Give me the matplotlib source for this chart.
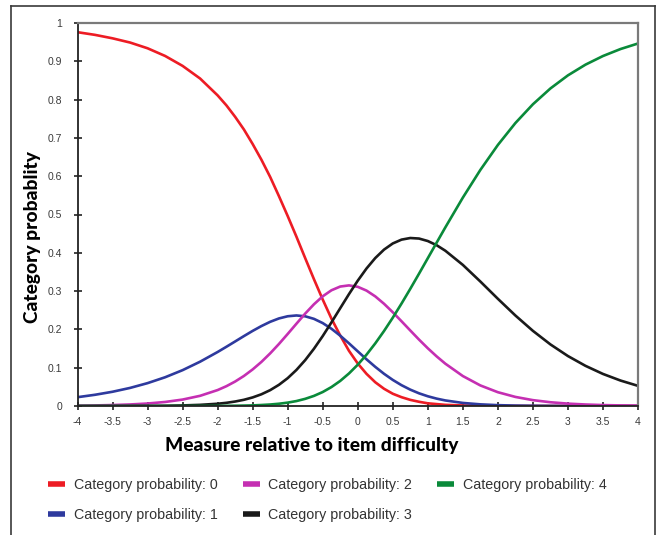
import matplotlib
matplotlib.use("Agg")
import matplotlib.pyplot as plt
from matplotlib.lines import Line2D

# Measure relative to item difficulty (logits)
measure = [-4.0, -3.75, -3.5, -3.25, -3.0, -2.75, -2.5, -2.25, -2.0, -1.875, -1.75, -1.625,
           -1.5, -1.375, -1.25, -1.125, -1.0, -0.875, -0.75, -0.625, -0.5, -0.375, -0.25,
           -0.125, 0.0, 0.125, 0.25, 0.375, 0.5, 0.625, 0.75, 0.875, 1.0, 1.125, 1.25,
           1.5, 1.75, 2.0, 2.25, 2.5, 2.75, 3.0, 3.25, 3.5, 3.75, 4.0]

cat0 = [0.976, 0.969, 0.960, 0.949, 0.934, 0.914, 0.888, 0.855, 0.811, 0.785, 0.755, 0.722,
        0.684, 0.643, 0.598, 0.548, 0.496, 0.442, 0.386, 0.331, 0.278, 0.228, 0.184,
        0.144, 0.111, 0.084, 0.062, 0.045, 0.032, 0.023, 0.016, 0.011, 0.007, 0.005, 0.003,
        0.0014, 0.0006, 0.0002, 0.0001, 0.0, 0.0, 0.0, 0.0, 0.0, 0.0, 0.0]
cat1 = [0.0230, 0.0293, 0.0372, 0.0472, 0.0597, 0.0750, 0.0936, 0.1157, 0.1410, 0.1546, 0.1685, 0.1825,
        0.1961, 0.2087, 0.2198, 0.2286, 0.2343, 0.2364, 0.2342, 0.2275, 0.2165, 0.2016, 0.1836,
        0.1636, 0.1427, 0.1219, 0.1022, 0.0841, 0.0681, 0.0543, 0.0427, 0.0331, 0.0254, 0.0193, 0.0145,
        0.0080, 0.0043, 0.0022, 0.0011, 0.0006, 0.0003, 0.0001, 0.0001, 0.0, 0.0, 0.0]
cat2 = [0.0009, 0.0015, 0.0025, 0.0040, 0.0065, 0.0105, 0.0168, 0.0266, 0.0416, 0.0517, 0.0639, 0.0784,
        0.0955, 0.1151, 0.1374, 0.1619, 0.1881, 0.2149, 0.2413, 0.2656, 0.2864, 0.3022, 0.3119,
        0.3149, 0.3112, 0.3013, 0.2862, 0.2669, 0.2448, 0.2212, 0.1971, 0.1733, 0.1507, 0.1297, 0.1105,
        0.0782, 0.0537, 0.0360, 0.0237, 0.0153, 0.0098, 0.0062, 0.0039, 0.0024, 0.0015, 0.0009]
cat3 = [0.0, 0.0, 0.0001, 0.0002, 0.0003, 0.0007, 0.0015, 0.0030, 0.0059, 0.0083, 0.0117, 0.0162,
        0.0224, 0.0306, 0.0414, 0.0553, 0.0727, 0.0942, 0.1198, 0.1495, 0.1826, 0.2184, 0.2554,
        0.2922, 0.3272, 0.3590, 0.3863, 0.4083, 0.4244, 0.4344, 0.4386, 0.4372, 0.4307, 0.4199, 0.4054,
        0.3684, 0.3250, 0.2799, 0.2363, 0.1962, 0.1608, 0.1304, 0.1049, 0.0837, 0.0665, 0.0526]
cat4 = [0.0, 0.0, 0.0, 0.0, 0.0, 0.0, 0.0, 0.0001, 0.0003, 0.0004, 0.0007, 0.0011,
        0.0016, 0.0026, 0.0039, 0.0059, 0.0088, 0.0129, 0.0187, 0.0264, 0.0365, 0.0495, 0.0655,
        0.0850, 0.1078, 0.1340, 0.1635, 0.1958, 0.2306, 0.2675, 0.3060, 0.3456, 0.3859, 0.4262, 0.4663,
        0.5441, 0.6164, 0.6816, 0.7388, 0.7878, 0.8291, 0.8633, 0.8912, 0.9138, 0.9320, 0.9465]

series = [cat0, cat1, cat2, cat3, cat4]
labels = ["Category probability: 0", "Category probability: 1", "Category probability: 2",
          "Category probability: 3", "Category probability: 4"]
colors = ["#ED1C24", "#2E3A9E", "#C52FB2", "#1A1A1A", "#0A8A3A"]

x_ticks = [-4, -3.5, -3, -2.5, -2, -1.5, -1, -0.5, 0, 0.5, 1, 1.5, 2, 2.5, 3, 3.5, 4]
x_ticklabels = ["-4", "-3.5", "-3", "-2.5", "-2", "-1.5", "-1", "-0.5", "0", "0.5", "1",
                "1.5", "2", "2.5", "3", "3.5", "4"]
y_ticks = [0, 0.1, 0.2, 0.3, 0.4, 0.5, 0.6, 0.7, 0.8, 0.9, 1]
y_ticklabels = ["0", "0.1", "0.2", "0.3", "0.4", "0.5", "0.6", "0.7", "0.8", "0.9", "1"]

W, H = 657, 535
fig = plt.figure(figsize=(W / 100, H / 100), dpi=100)
fig.patch.set_facecolor("white")

# outer frame (top, left, right)
fx0, fx1, fy0 = 11 / W, 655 / W, 1 - 6 / H
fig.add_artist(Line2D([fx0, fx1], [fy0, fy0], transform=fig.transFigure, color="#3a3a3a", lw=1.2))
fig.add_artist(Line2D([fx0, fx0], [fy0, 0], transform=fig.transFigure, color="#3a3a3a", lw=1.2))
fig.add_artist(Line2D([fx1, fx1], [fy0, 0], transform=fig.transFigure, color="#3a3a3a", lw=1.2))

ax_l, ax_r, ax_t, ax_b = 77.5, 638, 23, 406
ax = fig.add_axes([ax_l / W, 1 - ax_b / H, (ax_r - ax_l) / W, (ax_b - ax_t) / H])

for s, lab, c in zip(series, labels, colors):
    ax.plot(measure, s, color=c, lw=1.9, label=lab, solid_capstyle="butt",
            solid_joinstyle="round")

ax.set_xlim(-4, 4)
ax.set_ylim(0, 1)
ax.set_xticks(x_ticks)
ax.set_xticklabels(x_ticklabels)
ax.set_yticks(y_ticks)
ax.set_yticklabels(y_ticklabels)

tick_font = ["Liberation Sans", "DejaVu Sans"]
ax.tick_params(axis="both", direction="inout", length=6, width=1.2, color="#222222",
               labelsize=7.5, labelcolor="#3a3a3a")
ax.tick_params(axis="x", pad=5)
ax.tick_params(axis="y", pad=8)
for t in ax.get_xticklabels() + ax.get_yticklabels():
    t.set_family(tick_font)

ax.spines["left"].set_color("#222222")
ax.spines["bottom"].set_color("#222222")
ax.spines["left"].set_linewidth(1.3)
ax.spines["bottom"].set_linewidth(1.3)
ax.spines["top"].set_color("#7a7a7a")
ax.spines["right"].set_color("#7a7a7a")
ax.spines["top"].set_linewidth(1.6)
ax.spines["right"].set_linewidth(1.6)

title_font = ["Lato", "DejaVu Sans"]
fig.text(312 / W, 1 - 446 / H, "Measure relative to item difficulty", ha="center", va="center",
         fontsize=13.8, fontweight="black", family=title_font, color="black")
fig.text(33 / W, 1 - 237 / H, "Category probablity", ha="center", va="center", rotation=90,
         fontsize=13.8, fontweight="black", family=title_font, color="black")

leg = fig.legend(loc="upper left", bbox_to_anchor=(35 / W, 1 - 465 / H), ncol=3, frameon=False,
                 prop={"family": tick_font, "size": 10.3}, handlelength=1.2, handletextpad=0.6,
                 columnspacing=1.75, labelspacing=1.1, labelcolor="#333333")
for h in leg.get_lines():
    h.set_linewidth(4)

fig.savefig("out.png", dpi=100, facecolor="white")
